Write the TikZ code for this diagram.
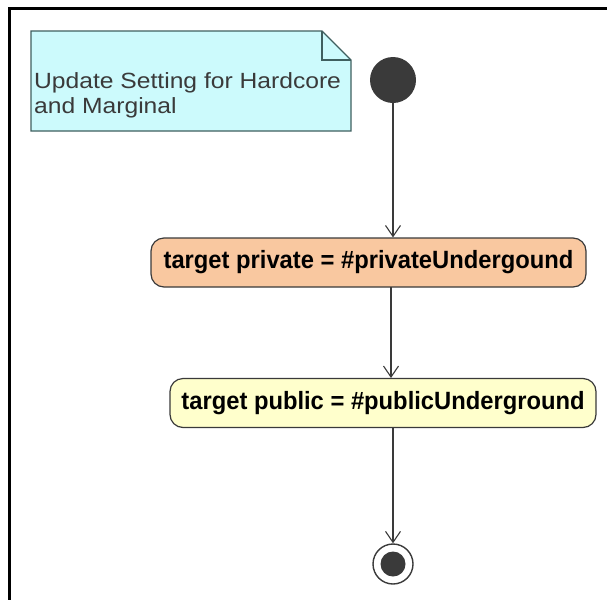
\documentclass[tikz,border=0pt]{standalone}
\usepackage{fontspec}
\setmainfont{Liberation Sans}
\newfontfamily\notefont[FakeStretch=1.12]{Liberation Sans}
\newfontfamily\actfont[FakeStretch=0.95]{Liberation Sans}
\usetikzlibrary{arrows.meta}
\definecolor{notefill}{HTML}{CCFAFC}
\definecolor{noteedge}{HTML}{3F5F5F}
\definecolor{peach}{HTML}{F9C8A0}
\definecolor{cream}{HTML}{FFFFCC}
\definecolor{ink}{HTML}{3A3A3A}
\tikzset{
  x=1pt, y=-1pt,
  actionbox/.style={draw=ink, line width=1.2pt, rounded corners=13pt,
    minimum height=49pt, inner xsep=8pt,
    font=\actfont\fontsize{25}{28}\selectfont\bfseries},
  flow/.style={draw=ink, line width=1.1pt,
    -{Straight Barb[length=11pt, width=15pt, line width=1.1pt]}},
}
\begin{document}
\begin{tikzpicture}
  \useasboundingbox (0,0) rectangle (607,600);
  % frame (top and left edges)
  \draw[line width=3pt] (607,8) -- (9,8) -- (9,600);

  % note with folded corner
  \path[fill=notefill, draw=noteedge, line width=1.2pt]
    (31,31) -- (322,31) -- (351,60) -- (351,131) -- (31,131) -- cycle;
  \draw[noteedge, line width=1.2pt] (322,31) -- (322,60) -- (351,60);
  \node[anchor=base west, inner sep=0pt, text=ink, align=left,
        font=\notefont\fontsize{22}{25}\selectfont] (note) at (34,113)
    {Update Setting for Hardcore\\and Marginal};

  % initial node
  \node[circle, fill=ink, minimum size=46pt, inner sep=0pt] (start) at (393,80) {};

  % actions
  \node[actionbox, fill=peach, minimum width=435pt] (a1) at (368.5,262.5)
    {target private = \#privateUndergound};
  \node[actionbox, fill=cream, minimum width=426pt] (a2) at (383,403)
    {target public = \#publicUnderground};

  % final node
  \node[circle, draw=ink, line width=1.4pt, fill=white, minimum size=40pt, inner sep=0pt] (end) at (393,564) {};
  \node[circle, fill=ink, minimum size=25pt, inner sep=0pt] (endin) at (393,564) {};

  % control flows
  \draw[flow] (start.south) -- (start.south |- a1.north);
  \draw[flow] (391,287) -- (391,378);
  \draw[flow] (a2.south -| end.north) -- (end.north);
\end{tikzpicture}
\end{document}
